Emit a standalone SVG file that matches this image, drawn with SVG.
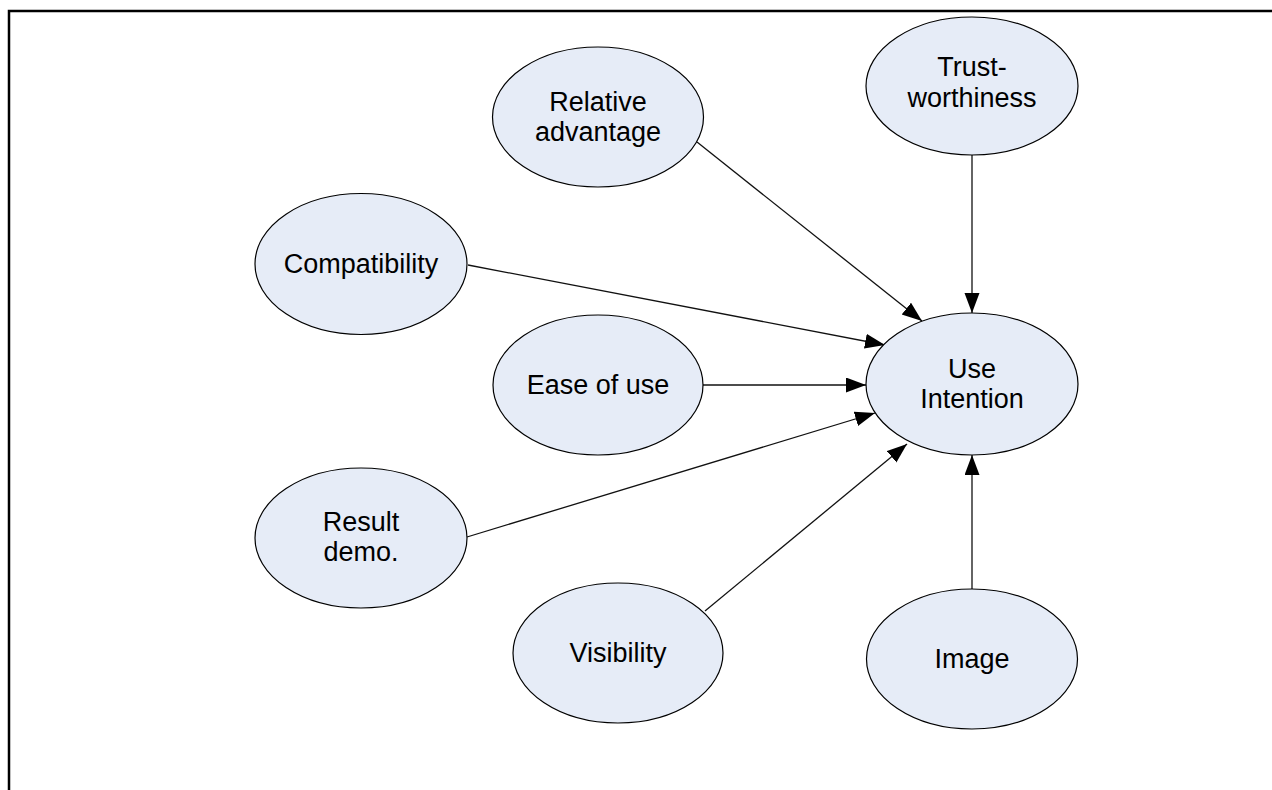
<svg xmlns="http://www.w3.org/2000/svg" width="1272" height="790" viewBox="0 0 1272 790">
<style>
.n ellipse{fill:#e6ecf7;stroke:#000;stroke-width:1.2}
.n text{font-family:"Liberation Sans",Arial,sans-serif;font-size:27px;fill:#000;text-anchor:middle}
.c line{stroke:#111;stroke-width:1.3;marker-end:url(#ah)}
</style>
<defs>
<marker id="ah" markerUnits="userSpaceOnUse" markerWidth="21" markerHeight="16" refX="20" refY="7.5" orient="auto"><path d="M0,0 L20,7.5 L0,15 z" fill="#000"/></marker>
</defs>
<rect width="1272" height="790" fill="#fff"/>
<path d="M9,790 V11 H1272" fill="none" stroke="#000" stroke-width="2.5"/>
<g class="c" id="connectors">
<line x1="697" y1="142" x2="922" y2="321"/>
<line x1="972" y1="155" x2="972" y2="313"/>
<line x1="468" y1="265" x2="885" y2="345"/>
<line x1="703" y1="385" x2="866" y2="385"/>
<line x1="467" y1="537" x2="875" y2="413"/>
<line x1="705" y1="611" x2="907" y2="444"/>
<line x1="972" y1="589" x2="972" y2="455"/>
</g>
<g class="n" id="relative-advantage"><ellipse cx="598" cy="117" rx="105.5" ry="70"/><text x="598" y="111">Relative</text><text x="598" y="141">advantage</text></g>
<g class="n" id="trustworthiness"><ellipse cx="972" cy="86" rx="106" ry="69"/><text x="972" y="76">Trust-</text><text x="972" y="107">worthiness</text></g>
<g class="n" id="compatibility"><ellipse cx="361" cy="264" rx="106" ry="70.5"/><text x="361" y="273">Compatibility</text></g>
<g class="n" id="ease-of-use"><ellipse cx="598" cy="385" rx="105" ry="70"/><text x="598" y="394">Ease of use</text></g>
<g class="n" id="use-intention"><ellipse cx="972" cy="384" rx="106" ry="71"/><text x="972" y="378">Use</text><text x="972" y="408">Intention</text></g>
<g class="n" id="result-demo"><ellipse cx="361" cy="538" rx="106" ry="70"/><text x="361" y="531">Result</text><text x="361" y="561">demo.</text></g>
<g class="n" id="visibility"><ellipse cx="618" cy="653" rx="105" ry="70"/><text x="618" y="662">Visibility</text></g>
<g class="n" id="image"><ellipse cx="972" cy="659" rx="105.5" ry="70"/><text x="972" y="668">Image</text></g>
</svg>
